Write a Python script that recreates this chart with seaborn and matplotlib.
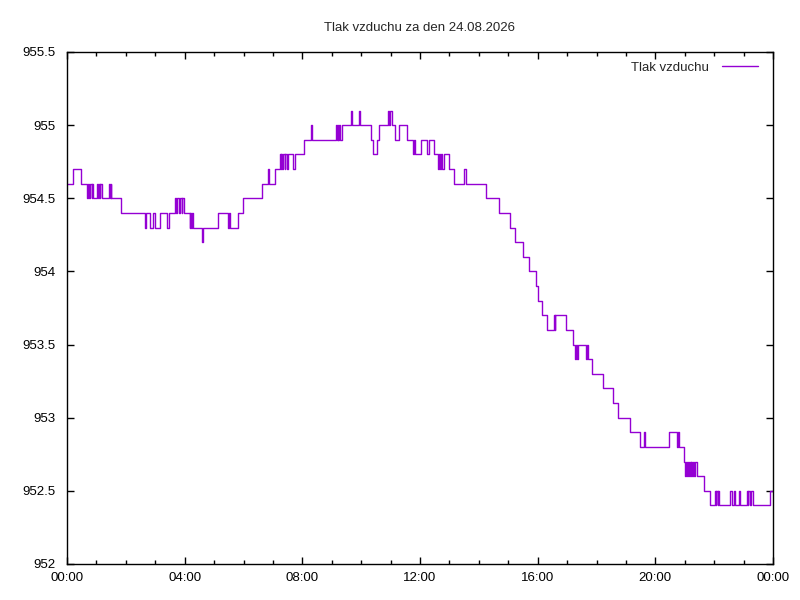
import pandas as pd
import matplotlib
matplotlib.use("Agg")
import matplotlib.pyplot as plt
from matplotlib.ticker import FixedLocator, MultipleLocator, FuncFormatter
import seaborn as sns

title = "Tlak vzduchu za den 24.08.2026"
series_name = "Tlak vzduchu"

# minutes since midnight where the reading changes (step data)
minutes = [
    0, 13, 29, 40, 42, 44, 46, 50, 52, 54, 62, 64, 65, 67, 68, 71, 86, 88, 89, 90,
    110, 159, 162, 169, 176, 179, 190, 203, 208, 221, 223, 225, 229, 231, 234, 235,
    239, 250, 251, 253, 254, 256, 275, 277, 309, 329, 331, 332, 349, 358,
    398, 410, 413, 425, 434, 436, 437, 439, 441, 444, 445, 449, 451, 460, 466, 484,
    497, 499, 549, 550, 552, 553, 555, 556, 560, 579, 582, 596, 597,
    620, 624, 633, 637, 655, 657, 658, 663, 668, 677, 693, 705, 707, 710,
    723, 734, 738, 749, 757, 759, 760, 762, 764, 769, 780, 790, 810, 813, 855, 882,
    903, 914, 930, 943, 956, 961, 969, 980, 993, 995, 996, 1017, 1033, 1036, 1038,
    1040, 1042, 1058, 1060, 1063, 1070,
    1094, 1113, 1123, 1149, 1168, 1176, 1178, 1227, 1245, 1246, 1248, 1258, 1261,
    1262, 1264, 1266, 1268, 1270, 1272, 1273, 1275, 1276, 1278, 1280, 1284, 1299,
    1312, 1322, 1323, 1324, 1327, 1328, 1330, 1352, 1357, 1361, 1363, 1370, 1372,
    1386, 1389, 1390, 1393, 1396, 1400, 1433, 1440,
]

pressure = [
    954.6, 954.7, 954.6, 954.5, 954.6, 954.5, 954.6, 954.5, 954.6, 954.5, 954.6, 954.5, 954.6, 954.5, 954.6, 954.5, 954.6, 954.5, 954.6, 954.5,
    954.4, 954.3, 954.4, 954.3, 954.4, 954.3, 954.4, 954.3, 954.4, 954.5, 954.4, 954.5, 954.4, 954.5, 954.4, 954.5,
    954.4, 954.3, 954.4, 954.3, 954.4, 954.3, 954.2, 954.3, 954.4, 954.3, 954.4, 954.3, 954.4, 954.5,
    954.6, 954.7, 954.6, 954.7, 954.8, 954.7, 954.8, 954.7, 954.8, 954.7, 954.8, 954.7, 954.8, 954.7, 954.8, 954.9,
    955.0, 954.9, 955.0, 954.9, 955.0, 954.9, 955.0, 954.9, 955.0, 955.1, 955.0, 955.1, 955.0,
    954.9, 954.8, 954.9, 955.0, 955.1, 955.0, 955.1, 955.0, 954.9, 955.0, 954.9, 954.8, 954.9, 954.8,
    954.9, 954.8, 954.9, 954.8, 954.7, 954.8, 954.7, 954.8, 954.7, 954.8, 954.7, 954.6, 954.7, 954.6, 954.5, 954.4,
    954.3, 954.2, 954.1, 954.0, 953.9, 953.8, 953.7, 953.6, 953.7, 953.6, 953.7, 953.6, 953.5, 953.4, 953.5,
    953.4, 953.5, 953.4, 953.5, 953.4, 953.3,
    953.2, 953.1, 953.0, 952.9, 952.8, 952.9, 952.8, 952.9, 952.8, 952.9, 952.8, 952.7, 952.6,
    952.7, 952.6, 952.7, 952.6, 952.7, 952.6, 952.7, 952.6, 952.7, 952.6, 952.7, 952.6, 952.5,
    952.4, 952.5, 952.4, 952.5, 952.4, 952.5, 952.4, 952.5, 952.4, 952.5, 952.4, 952.5, 952.4,
    952.5, 952.4, 952.5, 952.4, 952.5, 952.4, 952.5, 952.5,
]

y_ticks = [952, 952.5, 953, 953.5, 954, 954.5, 955, 955.5]
x_ticks = [0, 240, 480, 720, 960, 1200, 1440]
x_labels = ["00:00", "04:00", "08:00", "12:00", "16:00", "20:00", "00:00"]

df = pd.DataFrame({"minute": minutes, "tlak": pressure})

sns.set_style("ticks")
plt.rcParams["font.family"] = ["Liberation Sans", "DejaVu Sans"]

fig = plt.figure(figsize=(8, 6), dpi=100)
ax = fig.add_axes([67 / 800, 36 / 600, 706 / 800, 512 / 600])

sns.lineplot(data=df, x="minute", y="tlak", ax=ax, color="#9400d3", linewidth=1,
             drawstyle="steps-post", label=series_name)

ax.set_xlim(0, 1440)
ax.set_ylim(952, 955.5)
ax.xaxis.set_major_locator(FixedLocator(x_ticks))
ax.xaxis.set_minor_locator(MultipleLocator(60))
ax.xaxis.set_major_formatter(FuncFormatter(lambda v, p: x_labels[x_ticks.index(int(round(v)))] if int(round(v)) in x_ticks else ""))
ax.yaxis.set_major_locator(FixedLocator(y_ticks))
ax.yaxis.set_major_formatter(FuncFormatter(lambda v, p: "%g" % v))

ax.tick_params(which="both", direction="in", top=True, right=True, labelsize=9.5, colors="black")
ax.tick_params(axis="x", pad=6)
ax.tick_params(axis="y", pad=8)
ax.tick_params(which="major", length=5, width=1)
ax.tick_params(which="minor", length=3, width=1)
for s in ax.spines.values():
    s.set_color("black")
    s.set_linewidth(1)

ax.set_xlabel("")
ax.set_ylabel("")
ax.set_title(title, fontsize=9.5, pad=14.8)

ax.legend(loc="upper right", frameon=False, markerfirst=False, fontsize=9.5,
          handlelength=2.75, handletextpad=1.0, borderaxespad=0.6,
          bbox_to_anchor=(0.998, 1.007))

fig.savefig("out.png", dpi=100)
